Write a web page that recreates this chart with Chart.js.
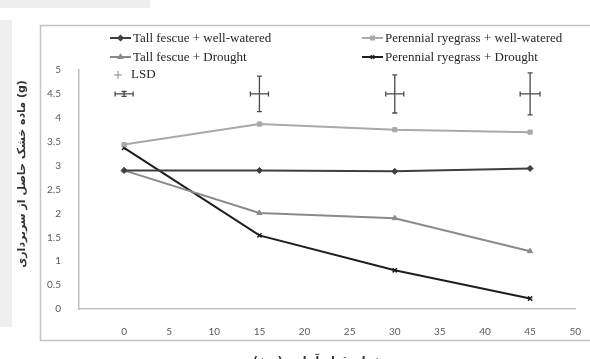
<!DOCTYPE html>
<html>
<head>
<meta charset="utf-8">
<script src="https://cdn.jsdelivr.net/npm/chart.js@4/dist/chart.umd.min.js"></script>
<style>
  html, body { margin: 0; padding: 0; background: #fff; }
  #wrap { position: relative; width: 590px; height: 359px; }
</style>
</head>
<body>
<div id="wrap"><canvas id="chart" width="590" height="359"></canvas></div>
<script>
// Days of drought
const days = [0, 15, 30, 45];

// Dry matter (g)
const tallWell = [2.90, 2.90, 2.88, 2.94];
const ryeWell = [3.44, 3.87, 3.75, 3.70];
const tallDrought = [2.90, 2.01, 1.90, 1.21];
const ryeDrought = [3.37, 1.54, 0.81, 0.22];

// LSD bars drawn at y = 4.5
const lsdY = [4.5, 4.5, 4.5, 4.5];
const lsdYErr = [0.05, 0.37, 0.40, 0.44];
const lsdXErr = [1.0, 1.0, 1.0, 1.1];

const yTitle = 'ماده خشک حاصل از سربرداری (g)';
const xTitle = 'مدت زمان قطع آبیاری (روز)';

const toPoints = vals => days.map((d, i) => ({ x: d, y: vals[i] }));

const series = [
    { label: 'Tall fescue + well-watered', data: tallWell, color: '#3f3f3f', style: 'rectRot', width: 2, col: 0, row: 0 },
    { label: 'Perennial ryegrass + well-watered', data: ryeWell, color: '#a9a9a9', style: 'rect', width: 2, col: 1, row: 0 },
    { label: 'Tall fescue + Drought', data: tallDrought, color: '#8a8a8a', style: 'triangle', width: 2, col: 0, row: 1 },
    { label: 'Perennial ryegrass + Drought', data: ryeDrought, color: '#1e1e1e', style: 'crossRot', width: 2, col: 1, row: 1 },
];

const datasets = series.map(s => ({
    label: s.label,
    data: toPoints(s.data),
    showLine: true,
    borderColor: s.color,
    backgroundColor: s.color,
    borderWidth: s.width,
    pointStyle: s.style,
    pointRadius: 3,
    pointBorderWidth: s.style === 'crossRot' ? 1.5 : 1,
    pointBorderColor: s.color,
    pointBackgroundColor: s.color,
}));

datasets.push({
    label: 'LSD',
    data: toPoints(lsdY),
    showLine: false,
    pointRadius: 0,
    borderColor: '#555',
});

// frame, titles, error bars and legend
const decorations = {
    id: 'decorations',
    beforeDraw(chart) {
        const ctx = chart.ctx;
        ctx.save();
        ctx.fillStyle = '#fff';
        ctx.fillRect(0, 0, chart.width, chart.height);
        // scanned page shading
        ctx.fillStyle = '#eeeeee';
        ctx.fillRect(0, 0, 150, 8);
        ctx.fillStyle = '#efefef';
        ctx.fillRect(0, 20, 12, 307);
        // outer chart frame
        ctx.strokeStyle = '#c4c4c4';
        ctx.lineWidth = 1.5;
        ctx.strokeRect(40.5, 25.5, 560, 315);
        ctx.restore();
    },
    afterDatasetsDraw(chart) {
        const ctx = chart.ctx;
        const xs = chart.scales.x, ys = chart.scales.y;
        ctx.save();
        ctx.strokeStyle = '#4a4a4a';
        ctx.lineWidth = 1.3;
        days.forEach((d, i) => {
            const cx = xs.getPixelForValue(d);
            const cy = ys.getPixelForValue(lsdY[i]);
            const top = ys.getPixelForValue(lsdY[i] + lsdYErr[i]);
            const bot = ys.getPixelForValue(lsdY[i] - lsdYErr[i]);
            const l = xs.getPixelForValue(d - lsdXErr[i]);
            const r = xs.getPixelForValue(d + lsdXErr[i]);
            ctx.beginPath();
            ctx.moveTo(cx, top); ctx.lineTo(cx, bot);
            ctx.moveTo(cx - 2.5, top); ctx.lineTo(cx + 2.5, top);
            ctx.moveTo(cx - 2.5, bot); ctx.lineTo(cx + 2.5, bot);
            ctx.moveTo(l, cy); ctx.lineTo(r, cy);
            ctx.moveTo(l, cy - 2.5); ctx.lineTo(l, cy + 2.5);
            ctx.moveTo(r, cy - 2.5); ctx.lineTo(r, cy + 2.5);
            ctx.stroke();
        });
        ctx.restore();
    },
    afterDraw(chart) {
        const ctx = chart.ctx;
        ctx.save();
        // legend
        const colX = [[110, 133], [362, 385]];
        const rowY = [38, 57];
        ctx.font = '13px "Liberation Serif", serif';
        ctx.textBaseline = 'middle';
        ctx.textAlign = 'left';
        series.forEach(s => {
            const [lx, tx] = colX[s.col];
            const y = rowY[s.row];
            ctx.strokeStyle = s.color;
            ctx.lineWidth = s.width;
            ctx.beginPath();
            ctx.moveTo(lx, y); ctx.lineTo(lx + 21, y);
            ctx.stroke();
            ctx.fillStyle = s.color;
            ctx.lineWidth = 1.5;
            Chart.helpers.drawPoint(ctx, {
                pointStyle: s.style, radius: 2.5, rotation: 0,
                borderWidth: s.style === 'crossRot' ? 1.5 : 1
            }, lx + 10.5, y);
            ctx.fillStyle = '#262626';
            ctx.fillText(s.label, tx, y + 1);
        });
        // LSD legend entry
        ctx.strokeStyle = '#8a8a8a';
        ctx.lineWidth = 1;
        ctx.beginPath();
        ctx.moveTo(118, 71); ctx.lineTo(118, 79);
        ctx.moveTo(114, 75); ctx.lineTo(122, 75);
        ctx.stroke();
        ctx.fillStyle = '#262626';
        ctx.fillText('LSD', 131, 75);

        // y title (rotated)
        ctx.font = 'bold 11px "DejaVu Sans", sans-serif';
        ctx.fillStyle = '#333';
        ctx.textAlign = 'center';
        ctx.translate(22, 174);
        ctx.rotate(-Math.PI / 2);
        ctx.fillText(yTitle, 0, 0);
        ctx.setTransform(1, 0, 0, 1, 0, 0);

        // x title (cut off at bottom edge)
        ctx.font = 'bold 11px "DejaVu Sans", sans-serif';
        ctx.fillText(xTitle, 330, 361);
        ctx.restore();
    }
};

new Chart(document.getElementById('chart').getContext('2d'), {
    type: 'scatter',
    data: { datasets: datasets },
    options: {
        responsive: false,
        animation: false,
        layout: { padding: { left: 0, top: 70, right: 8, bottom: 0 } },
        plugins: {
            legend: { display: false },
            tooltip: { enabled: false },
        },
        scales: {
            x: {
                type: 'linear',
                min: -5,
                max: 50,
                afterFit: scale => { scale.height = 50; },
                grid: { display: false },
                border: { display: true, color: '#c0c0c0', width: 1.5 },
                ticks: {
                    stepSize: 5,
                    padding: 9,
                    color: '#595959',
                    font: { family: 'Lato, "Open Sans", sans-serif', size: 10 },
                    callback: v => (v < 0 ? '' : String(v)),
                },
            },
            y: {
                min: 0,
                max: 5,
                afterFit: scale => { scale.width = 79; },
                grid: { display: false },
                border: { display: true, color: '#c0c0c0', width: 1.5 },
                ticks: {
                    stepSize: 0.5,
                    padding: 10,
                    color: '#595959',
                    font: { family: 'Lato, "Open Sans", sans-serif', size: 10 },
                    callback: v => String(v),
                },
            },
        },
    },
    plugins: [decorations],
});
</script>
</body>
</html>
